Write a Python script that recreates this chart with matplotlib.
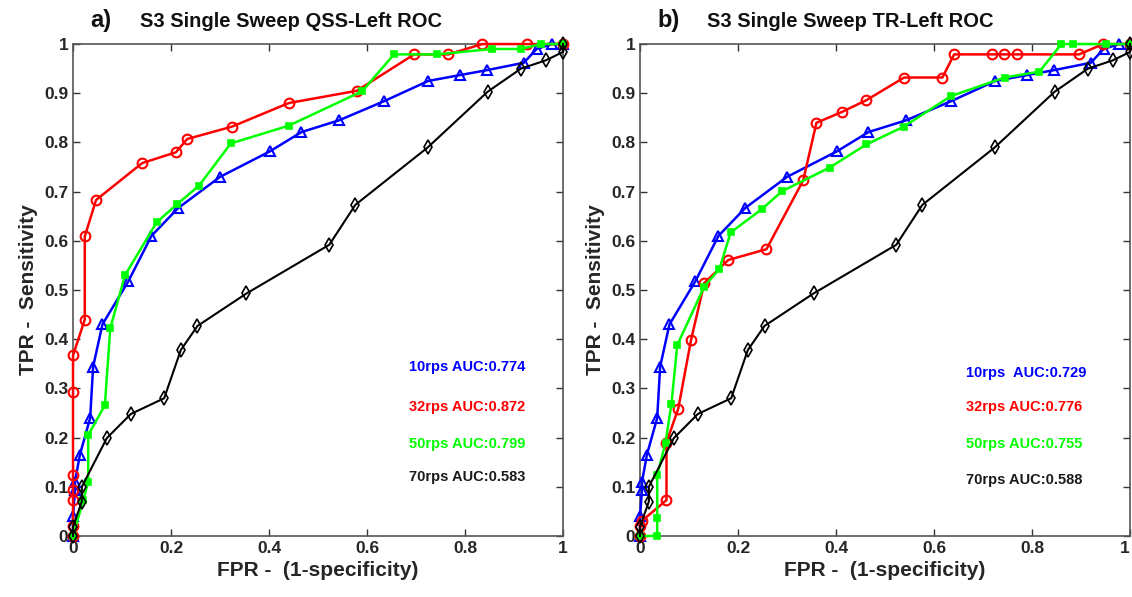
import matplotlib
matplotlib.use("Agg")
import matplotlib.pyplot as plt

plt.rcParams['font.family'] = ['Liberation Sans', 'DejaVu Sans']
plt.rcParams['font.weight'] = 'bold'

# 10 rps and 70 rps curves are the same in both panels
fpr_10 = [0, 0, 0.004, 0.004, 0.014, 0.035, 0.041, 0.06, 0.113, 0.16, 0.215, 0.30, 0.402,
          0.466, 0.543, 0.635, 0.725, 0.79, 0.845, 0.92, 0.946, 0.977, 1.0]
tpr_10 = [0, 0.04, 0.094, 0.11, 0.165, 0.24, 0.344, 0.43, 0.518, 0.61, 0.667, 0.73, 0.782,
          0.821, 0.845, 0.884, 0.925, 0.937, 0.947, 0.962, 0.99, 1.0, 1.0]

fpr_70 = [0, 0, 0.018, 0.018, 0.069, 0.118, 0.186, 0.22, 0.254, 0.354, 0.523, 0.576, 0.724,
          0.846, 0.914, 0.965, 1.0, 1.0]
tpr_70 = [0, 0.019, 0.07, 0.10, 0.199, 0.248, 0.28, 0.378, 0.427, 0.493, 0.592, 0.673, 0.79,
          0.903, 0.95, 0.967, 0.984, 1.0]

# panel a) QSS-Left
fpr_32_a = [0, 0, 0, 0, 0, 0, 0, 0.024, 0.024, 0.047, 0.141, 0.21, 0.233, 0.324, 0.44,
            0.579, 0.696, 0.766, 0.835, 0.927, 1.0]
tpr_32_a = [0, 0.02, 0.073, 0.093, 0.124, 0.293, 0.367, 0.44, 0.609, 0.683, 0.758, 0.78,
            0.807, 0.832, 0.88, 0.905, 0.979, 0.979, 1.0, 1.0, 1.0]
fpr_50_a = [0, 0.021, 0.031, 0.031, 0.065, 0.076, 0.106, 0.171, 0.213, 0.257, 0.322, 0.44,
            0.59, 0.655, 0.742, 0.856, 0.914, 0.955, 1.0]
tpr_50_a = [0, 0.073, 0.11, 0.205, 0.266, 0.422, 0.53, 0.638, 0.675, 0.712, 0.798, 0.834,
            0.904, 0.979, 0.979, 0.99, 0.99, 1.0, 1.0]

# panel b) TR-Left
fpr_32_b = [0, 0, 0.003, 0.054, 0.054, 0.078, 0.104, 0.131, 0.18, 0.258, 0.333, 0.36, 0.412,
            0.462, 0.539, 0.617, 0.641, 0.718, 0.743, 0.77, 0.896, 0.945, 1.0]
tpr_32_b = [0, 0.02, 0.03, 0.073, 0.19, 0.259, 0.398, 0.514, 0.561, 0.583, 0.723, 0.84, 0.862,
            0.886, 0.932, 0.932, 0.979, 0.979, 0.979, 0.979, 0.979, 1.0, 1.0]
fpr_50_b = [0, 0.035, 0.035, 0.035, 0.052, 0.064, 0.076, 0.131, 0.162, 0.185, 0.248, 0.29,
            0.387, 0.462, 0.538, 0.634, 0.744, 0.815, 0.86, 0.883, 0.95, 1.0]
tpr_50_b = [0, 0, 0.037, 0.123, 0.19, 0.268, 0.388, 0.507, 0.543, 0.617, 0.664, 0.701,
            0.749, 0.796, 0.832, 0.894, 0.932, 0.944, 1.0, 1.0, 1.0, 1.0]

auc_a = ['10rps AUC:0.774', '32rps AUC:0.872', '50rps AUC:0.799', '70rps AUC:0.583']
auc_b = ['10rps  AUC:0.729', '32rps AUC:0.776', '50rps AUC:0.755', '70rps AUC:0.588']

fig = plt.figure(figsize=(11.32, 5.97), dpi=100)
ax_a = fig.add_axes([0.0645, 0.1022, 0.4329, 0.824])
ax_b = fig.add_axes([0.5654, 0.1022, 0.4329, 0.824])


def draw_panel(ax, fpr_32, tpr_32, fpr_50, tpr_50, auc, text_x, text_y, letter, title):
    ax.plot(fpr_10, tpr_10, color='blue', lw=1.8, marker='^', ms=7, mfc='none', mew=1.5, clip_on=False, zorder=3)
    ax.plot(fpr_32, tpr_32, color='red', lw=1.8, marker='o', ms=7, mfc='none', mew=1.5, clip_on=False, zorder=3)
    ax.plot(fpr_50, tpr_50, color='#00ff00', lw=1.8, marker='s', ms=5, mfc='#00ff00', mew=1.2, clip_on=False, zorder=3)
    ax.plot(fpr_70, tpr_70, color='black', lw=1.5, marker='d', ms=7, mfc='none', mew=1.2, clip_on=False, zorder=3)

    ax.set_xlim(0, 1)
    ax.set_ylim(0, 1)
    ax.set_xticks([0, 0.2, 0.4, 0.6, 0.8, 1])
    ax.set_xticklabels(['0', '0.2', '0.4', '0.6', '0.8', '1'])
    ax.set_yticks([i / 10 for i in range(11)])
    ax.set_yticklabels(['0'] + ['0.%d' % i for i in range(1, 10)] + ['1'])
    ax.tick_params(direction='in', top=True, right=True, length=5, width=1, colors='#333333',
                   labelsize=12.5, labelcolor='#262626')
    for lbl in ax.get_xticklabels() + ax.get_yticklabels():
        lbl.set_fontweight('bold')
    for s in ax.spines.values():
        s.set_color('#555555')
        s.set_linewidth(1.2)
    ax.set_xlabel('FPR -  (1-specificity)', fontsize=15, fontweight='bold', color='#262626', labelpad=4)
    ax.set_ylabel('TPR -  Sensitivity', fontsize=15, fontweight='bold', color='#262626', labelpad=4)

    colors = ['blue', 'red', '#00ff00', '#1a1a1a']
    for s, c, ty in zip(auc, colors, text_y):
        ax.text(text_x, ty, s, color=c, fontsize=10.5, fontweight='bold', va='center', ha='left')

    ax.text(0.035, 1.025, letter, transform=ax.transAxes, fontsize=17, fontweight='heavy',
            color='#111111', va='bottom', ha='left')
    ax.text(0.137, 1.027, title, transform=ax.transAxes, fontsize=14.5, fontweight='bold',
            color='#111111', va='bottom', ha='left')


draw_panel(ax_a, fpr_32_a, tpr_32_a, fpr_50_a, tpr_50_a, auc_a, 0.686,
           [0.343, 0.262, 0.187, 0.120], 'a)', 'S3 Single Sweep QSS-Left ROC')
draw_panel(ax_b, fpr_32_b, tpr_32_b, fpr_50_b, tpr_50_b, auc_b, 0.665,
           [0.331, 0.262, 0.187, 0.114], 'b)', 'S3 Single Sweep TR-Left ROC')

# last x tick label of panel b sits at the figure edge; keep it inside
ax_b.get_xticklabels()[-1].set_horizontalalignment('right')

fig.savefig('out.png', dpi=100)
